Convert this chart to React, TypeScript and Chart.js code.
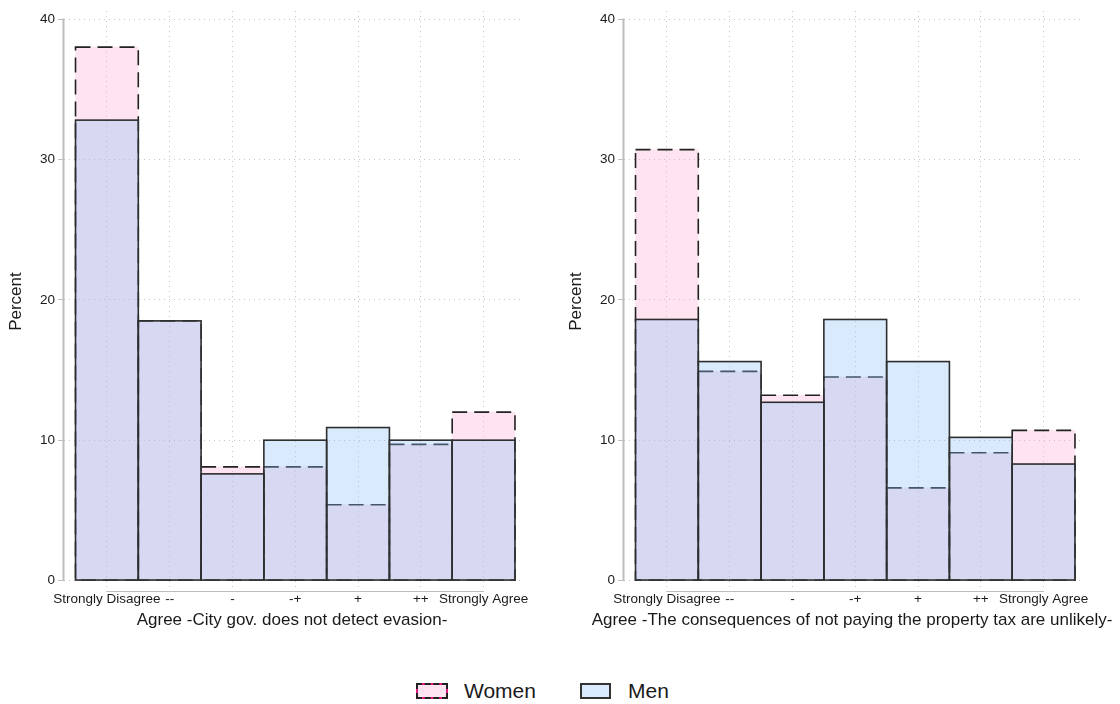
import React, { useEffect, useRef } from "react";
import { Chart, registerables } from "chart.js";

Chart.register(...registerables);

// ---------- data ----------
const CATEGORIES = ["Strongly Disagree", "--", "-", "-+", "+", "++", "Strongly Agree"];
const CAT_POS = [1, 2, 3, 4, 5, 6, 7];
const Y_TICKS = [0, 10, 20, 30, 40];
const SERIES_NAMES = ["Women", "Men"];

const LEFT_WOMEN = [38.0, 18.5, 8.1, 8.1, 5.4, 9.7, 12.0];
const LEFT_MEN = [32.8, 18.5, 7.6, 10.0, 10.9, 10.0, 10.0];
const RIGHT_WOMEN = [30.7, 14.9, 13.2, 14.5, 6.6, 9.1, 10.7];
const RIGHT_MEN = [18.6, 15.6, 12.7, 18.6, 15.6, 10.2, 8.3];

const LEFT_TITLE = "Agree -City gov. does not detect evasion-";
const RIGHT_TITLE = "Agree -The consequences of not paying the property tax are unlikely-";
const Y_TITLE = "Percent";

// axis ranges (Stata-like margins around the bars)
const X_MIN = 0.3165;
const X_MAX = 7.58;
const Y_MIN = -0.815;
const Y_MAX = 40.567;

// ---------- styles ----------
const FONT = "'Liberation Sans', Arial, Helvetica, sans-serif";
const TEXT = "#1a1a1a";
const GRID = "#c4c4c4";
const AXIS = "#bdbdbd";
const WOMEN_FILL = "rgba(249,174,210,0.333)";
const MEN_FILL = "rgba(138,192,246,0.333)";
const WOMEN_LINE = "#222222";
const MEN_LINE = "#2e2e2e";

const outlinePlugin = {
  id: "barOutline",
  afterDatasetDraw(chart: any, args: any) {
    const ds: any = chart.data.datasets[args.index];
    const o = ds.outline;
    if (!o) return;
    const ctx = chart.ctx;
    ctx.save();
    ctx.lineWidth = o.width;
    ctx.strokeStyle = o.color;
    ctx.setLineDash(o.dash || []);
    args.meta.data.forEach((el: any) => {
      const { x, y, base, width } = el.getProps(["x", "y", "base", "width"], true);
      ctx.strokeRect(x - width / 2, y, width, base - y);
    });
    ctx.restore();
  },
};

const axisLinesPlugin = {
  id: "axisLines",
  afterDraw(chart: any) {
    const { ctx, chartArea, scales } = chart;
    const x = scales.x;
    const y = scales.y;
    ctx.save();
    ctx.setLineDash([]);
    ctx.strokeStyle = AXIS;
    ctx.lineWidth = 2;
    ctx.beginPath();
    ctx.moveTo(chartArea.left - 0.5, y.getPixelForValue(Y_TICKS[0]) + 0.5);
    ctx.lineTo(chartArea.left - 0.5, y.getPixelForValue(Y_TICKS[Y_TICKS.length - 1]) - 0.5);
    ctx.stroke();
    ctx.lineWidth = 1.2;
    ctx.beginPath();
    ctx.moveTo(x.getPixelForValue(CAT_POS[0]), chartArea.bottom - 0.5);
    ctx.lineTo(x.getPixelForValue(CAT_POS[CAT_POS.length - 1]), chartArea.bottom - 0.5);
    ctx.stroke();
    ctx.restore();
  },
};

const xTitlePlugin = {
  id: "xTitle",
  afterDraw(chart: any, _args: any, opts: any) {
    const { ctx, chartArea } = chart;
    ctx.save();
    ctx.font = `17px ${FONT}`;
    ctx.fillStyle = TEXT;
    ctx.textAlign = "center";
    ctx.textBaseline = "alphabetic";
    ctx.fillText(opts.text, (chartArea.left + chartArea.right) / 2, chartArea.bottom + 33);
    ctx.restore();
  },
};

function Panel({ women, men, title, left }: { women: number[]; men: number[]; title: string; left: number }) {
  const ref = useRef<HTMLCanvasElement | null>(null);
  useEffect(() => {
    if (!ref.current) return;
    const chart = new Chart(ref.current, {
      type: "bar",
      data: {
        datasets: [
          {
            label: SERIES_NAMES[0],
            data: CAT_POS.map((x, i) => ({ x, y: women[i] })),
            backgroundColor: WOMEN_FILL,
            borderWidth: 0,
            grouped: false,
            order: 2,
            barPercentage: 1,
            categoryPercentage: 1,
            outline: { color: WOMEN_LINE, width: 1.6, dash: [15, 7] },
          } as any,
          {
            label: SERIES_NAMES[1],
            data: CAT_POS.map((x, i) => ({ x, y: men[i] })),
            backgroundColor: MEN_FILL,
            borderWidth: 0,
            grouped: false,
            order: 1,
            barPercentage: 1,
            categoryPercentage: 1,
            outline: { color: MEN_LINE, width: 1.6, dash: [] },
          } as any,
        ],
      },
      options: {
        animation: false,
        responsive: false,
        devicePixelRatio: 1,
        layout: { padding: { left: 0, right: 40, top: 8, bottom: 0 } },
        plugins: {
          legend: { display: false },
          tooltip: { enabled: false },
          xTitle: { text: title },
        } as any,
        scales: {
          x: {
            type: "linear",
            offset: false,
            min: X_MIN,
            max: X_MAX,
            afterBuildTicks: (s: any) => {
              s.ticks = CAT_POS.map((v) => ({ value: v }));
            },
            afterFit: (s: any) => {
              s.height = 48;
            },
            grid: { display: true, offset: false, drawOnChartArea: true, drawTicks: false, color: GRID, lineWidth: 1 },
            border: { display: false, dash: [1, 4] },
            ticks: {
              autoSkip: false,
              maxRotation: 0,
              minRotation: 0,
              padding: 0,
              color: TEXT,
              font: { family: FONT, size: 13.5, lineHeight: 1.1 },
              callback: (v: any) => {
                const i = CAT_POS.indexOf(Number(v));
                return i >= 0 ? CATEGORIES[i] : "";
              },
            },
          },
          y: {
            type: "linear",
            min: Y_MIN,
            max: Y_MAX,
            afterBuildTicks: (s: any) => {
              s.ticks = Y_TICKS.map((v) => ({ value: v }));
            },
            afterFit: (s: any) => {
              s.width = 64;
            },
            grid: { color: GRID, lineWidth: 1, drawTicks: true, tickLength: 6, tickColor: AXIS, tickWidth: 1 },
            border: { display: false, dash: [1, 4] },
            ticks: { padding: 3, color: TEXT, font: { family: FONT, size: 13.5 } },
            title: {
              display: true,
              text: Y_TITLE,
              color: TEXT,
              font: { family: FONT, size: 17 },
              padding: { top: 6, bottom: 0 },
            },
          },
        },
      } as any,
      plugins: [outlinePlugin, axisLinesPlugin, xTitlePlugin],
    });
    return () => chart.destroy();
  }, [women, men, title]);
  return (
    <canvas
      ref={ref}
      width={560}
      height={640}
      style={{ position: "absolute", left, top: 0, width: 560, height: 640 }}
    />
  );
}

export default function App() {
  useEffect(() => {
    document.body.style.margin = "0";
    document.body.style.background = "#ffffff";
  }, []);
  const textStyle: React.CSSProperties = {
    position: "absolute",
    top: 680,
    fontFamily: FONT,
    fontSize: 21,
    lineHeight: "21px",
    color: TEXT,
    whiteSpace: "nowrap",
  };
  return (
    <div style={{ position: "relative", width: 1120, height: 704, overflow: "hidden", background: "#fff" }}>
      <Panel women={LEFT_WOMEN} men={LEFT_MEN} title={LEFT_TITLE} left={0} />
      <Panel women={RIGHT_WOMEN} men={RIGHT_MEN} title={RIGHT_TITLE} left={560} />
      <div
        style={{
          position: "absolute",
          left: 416,
          top: 683,
          width: 32,
          height: 16,
          boxSizing: "border-box",
          background: "rgb(253,228,240)",
          border: "2px solid #e6197f",
        }}
      >
        <div style={{ position: "absolute", left: -2, top: -2, right: -2, bottom: -2, border: "2px dashed #222" }} />
      </div>
      <span style={{ ...textStyle, left: 464 }}>{SERIES_NAMES[0]}</span>
      <div
        style={{
          position: "absolute",
          left: 580,
          top: 683,
          width: 31,
          height: 16,
          boxSizing: "border-box",
          background: "rgb(216,234,252)",
          border: "2px solid #333",
        }}
      />
      <span style={{ ...textStyle, left: 628 }}>{SERIES_NAMES[1]}</span>
    </div>
  );
}
